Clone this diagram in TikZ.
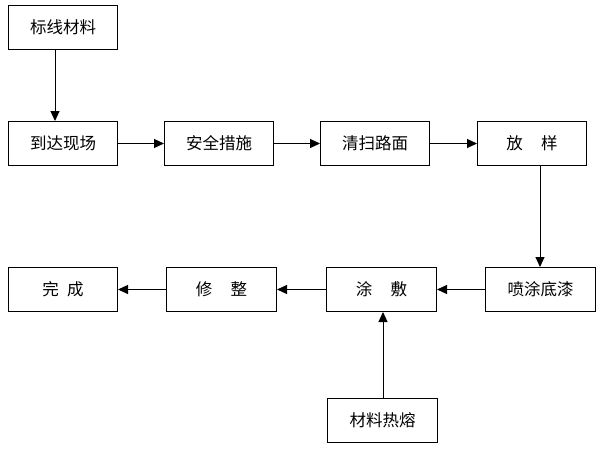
\documentclass[tikz,border=0pt]{standalone}
\usepackage{fontspec}
\newfontfamily\cjk{Noto Sans CJK SC}
\usetikzlibrary{arrows.meta}
\tikzset{
  box/.style={draw, line width=1pt, minimum width=109pt, minimum height=44pt, inner sep=0pt, font=\cjk\fontsize{16.5pt}{18pt}\selectfont, anchor=north west},
  conn/.style={line width=1pt, -{Triangle[length=10pt,width=9pt]}}
}
\begin{document}
\begin{tikzpicture}[x=1pt,y=-1pt]
\useasboundingbox (0,0) rectangle (600,450);
\node[box] (bx) at (8,5) {标线材料};
\node[box] (dd) at (8,121) {到达现场};
\node[box] (aq) at (164,121) {安全措施};
\node[box] (qs) at (320,121) {清扫路面};
\node[box] (fy) at (477,121) {放\hspace{1.1em}样};
\node[box, minimum width=110pt] (pt) at (485,267) {喷涂底漆};
\node[box, minimum width=110pt] (tf) at (326,267) {涂\hspace{1.1em}敷};
\node[box, minimum width=110pt] (xz) at (166,267) {修\hspace{1.1em}整};
\node[box] (wc) at (8,267) {完\hspace{0.5em}成};
\node[box, minimum width=110pt] (cl) at (327,398) {材料热熔};
\draw[conn] (bx.south -| 55,0) -- (dd.north -| 55,0);
\draw[conn] (dd) -- (aq);
\draw[conn] (aq) -- (qs);
\draw[conn] (qs) -- (fy);
\draw[conn] (fy.south -| 540,0) -- (pt.north -| 540,0);
\draw[conn] (pt) -- (tf);
\draw[conn] (tf) -- (xz);
\draw[conn] (xz) -- (wc);
\draw[conn] (cl.north -| 383,0) -- (tf.south -| 383,0);
\end{tikzpicture}
\end{document}
